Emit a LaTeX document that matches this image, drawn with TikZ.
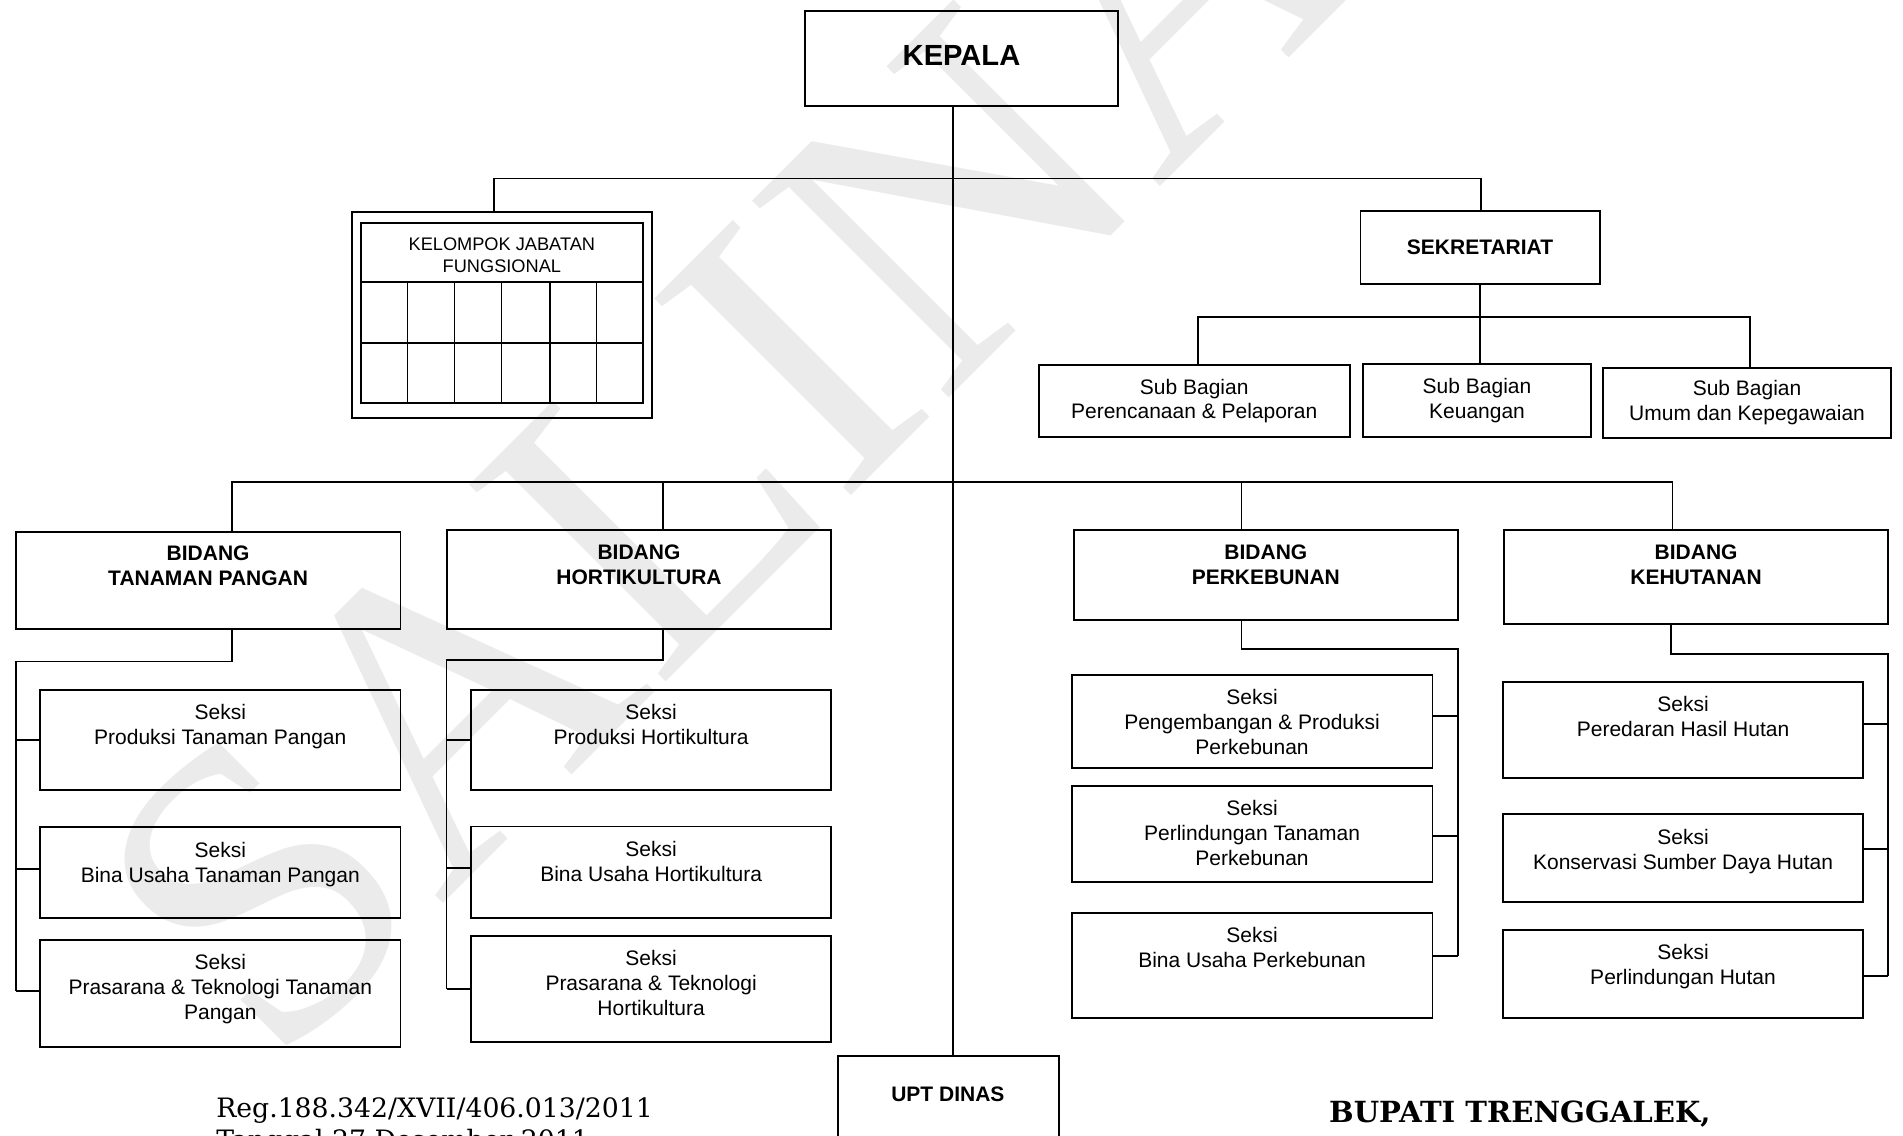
\documentclass[tikz,border=0pt]{standalone}
\usepackage{fontspec}
\setmainfont{Liberation Sans}
\newfontfamily\docserif{DejaVu Serif}
\newfontfamily\markserif{Liberation Serif}
% box given by its name and two corners (x1,y1) (x2,y2), y measured downwards
\newcommand{\orgbox}[5]{%
  \node[box, minimum width={(#4-#2)*1pt}, minimum height={(#5-#3)*1pt}]
    (#1) at ({(#2+#4)/2},{(#3+#5)/2}) {};}
\begin{document}
\begin{tikzpicture}[x=1pt,y=-1pt,
  box/.style={draw, line width=1.6pt, inner sep=0pt, outer sep=0pt},
  conn/.style={line width=1.4pt},
  lbl/.style={inner sep=0pt, align=center, font=\fontsize{17.3}{20.5}\selectfont},
  blbl/.style={inner sep=0pt, align=center, font=\fontsize{17.3}{20.5}\selectfont\bfseries},
  toplbl/.style={lbl, anchor=north},
  btoplbl/.style={blbl, anchor=north},
]
\useasboundingbox (0,0) rectangle (1568,936);
\clip (0,0) rectangle (1568,936);

% watermark
\node[rotate=45, anchor=base west, inner sep=0pt, text=gray!16,
      font=\markserif\fontsize{350}{350}\selectfont] (wm) at (225,885) {SALINAN};

% ---------- boxes ----------
\orgbox{kepala}{663.5}{9}{921}{87}
\orgbox{kjf}{289.8}{174.4}{537.1}{344.6}
\orgbox{kjfin}{297.2}{183.5}{530}{332.3}
\orgbox{sek}{1121}{174}{1318}{234}
\orgbox{sb1}{856}{301}{1112}{360}
\orgbox{sb2}{1123}{300}{1311}{360}
\orgbox{sb3}{1321}{303}{1558}{361}

\orgbox{tp}{13}{438}{330}{518}
\orgbox{ho}{368}{437}{685}{518}
\orgbox{pk}{885}{437}{1201}{510.8}
\orgbox{kh}{1239}{437}{1556}{514}

\orgbox{tp1}{33}{568.5}{330}{651}
\orgbox{tp2}{33}{681.7}{330}{756.6}
\orgbox{tp3}{33}{774.5}{330}{862.4}
\orgbox{ho1}{388}{568.5}{685}{651}
\orgbox{ho2}{388}{681}{685}{756.6}
\orgbox{ho3}{388}{771.2}{685}{858.8}
\orgbox{pk1}{883}{556}{1180.3}{632.5}
\orgbox{pk2}{883}{647.6}{1180.3}{727}
\orgbox{pk3}{883}{752}{1180.3}{839}
\orgbox{kh1}{1238.5}{561.6}{1535}{641.3}
\orgbox{kh2}{1238.5}{671}{1535}{743.4}
\orgbox{kh3}{1238.5}{766.3}{1535}{839}

\orgbox{upt}{690.7}{870}{872.3}{990}

% grid of the functional group box
\draw[line width=1.6pt] (kjfin.west |- 0,232.1) -- (kjfin.east |- 0,232.1);
\draw[line width=1.6pt] (kjfin.west |- 0,282.6) -- (kjfin.east |- 0,282.6);
\foreach \cx in {335.9,374.3,413.4,453.2,491.6}
  \draw[line width=1.2pt] (\cx,232.1) -- (\cx,332.3);

% ---------- labels ----------
\node[inner sep=0pt, font=\fontsize{24}{28}\selectfont\bfseries] (kepalat) at ([yshift=2pt]kepala.center) {KEPALA};
\node[inner sep=0pt, align=center, font=\fontsize{15}{18}\selectfont] (kjft) at (413.5,210) {KELOMPOK JABATAN\\FUNGSIONAL};
\node[blbl] (sekt) at (sek.center) {SEKRETARIAT};
\node[lbl] (sb1t) at (sb1.center) {Sub Bagian\\Perencanaan \& Pelaporan};
\node[lbl] (sb2t) at (sb2.center) {Sub Bagian\\Keuangan};
\node[lbl] (sb3t) at (sb3.center) {Sub Bagian\\Umum dan Kepegawaian};

\node[btoplbl] (tpt) at ([yshift=-11.8pt]tp.north) {BIDANG\\TANAMAN PANGAN};
\node[btoplbl] (hot) at ([yshift=-11.8pt]ho.north) {BIDANG\\HORTIKULTURA};
\node[btoplbl] (pkt) at ([yshift=-11.8pt]pk.north) {BIDANG\\PERKEBUNAN};
\node[btoplbl] (kht) at ([yshift=-11.8pt]kh.north) {BIDANG\\KEHUTANAN};

\node[toplbl] (tp1t) at ([yshift=-11.8pt]tp1.north) {Seksi\\Produksi Tanaman Pangan};
\node[toplbl] (tp2t) at ([yshift=-11.8pt]tp2.north) {Seksi\\Bina Usaha Tanaman Pangan};
\node[toplbl] (tp3t) at ([yshift=-11.8pt]tp3.north) {Seksi\\Prasarana \& Teknologi Tanaman\\Pangan};
\node[toplbl] (ho1t) at ([yshift=-11.8pt]ho1.north) {Seksi\\Produksi Hortikultura};
\node[toplbl] (ho2t) at ([yshift=-11.8pt]ho2.north) {Seksi\\Bina Usaha Hortikultura};
\node[toplbl] (ho3t) at ([yshift=-11.8pt]ho3.north) {Seksi\\Prasarana \& Teknologi\\Hortikultura};
\node[toplbl] (pk1t) at ([yshift=-11.8pt]pk1.north) {Seksi\\Pengembangan \& Produksi\\Perkebunan};
\node[toplbl] (pk2t) at ([yshift=-11.8pt]pk2.north) {Seksi\\Perlindungan Tanaman\\Perkebunan};
\node[toplbl] (pk3t) at ([yshift=-11.8pt]pk3.north) {Seksi\\Bina Usaha Perkebunan};
\node[toplbl] (kh1t) at ([yshift=-11.8pt]kh1.north) {Seksi\\Peredaran Hasil Hutan};
\node[toplbl] (kh2t) at ([yshift=-11.8pt]kh2.north) {Seksi\\Konservasi Sumber Daya Hutan};
\node[toplbl] (kh3t) at ([yshift=-11.8pt]kh3.north) {Seksi\\Perlindungan Hutan};

\node[blbl] (uptt) at (781,902) {UPT DINAS};

% ---------- connectors ----------
\coordinate (trk) at (785,0);
\draw[conn] (kepala.south -| trk) -- (upt.north -| trk);

\coordinate (j1l) at (407,147);
\coordinate (j1r) at (1220,147);
\draw[conn] (kjf.north -| j1l) -- (j1l) -- (j1r) -- (sek.north -| j1r);

\coordinate (j2l) at (987,261);
\coordinate (j2r) at (1442,261);
\draw[conn] (sek.south) -- (sek.south |- j2l);
\draw[conn] (sb1.north -| j2l) -- (j2l) -- (j2r) -- (sb3.north -| j2r);
\draw[conn] (sek.south |- j2l) -- (sek.south |- sb2.north);

\coordinate (j3l) at (191,397);
\coordinate (j3b) at (546,397);
\coordinate (j3c) at (1023,397);
\coordinate (j3r) at (1378,397);
\draw[conn] (tp.north -| j3l) -- (j3l) -- (j3r) -- (kh.north -| j3r);
\draw[conn] (j3b) -- (ho.north -| j3b);
\draw[conn] (j3c) -- (pk.north -| j3c);

% Tanaman Pangan sections
\coordinate (tpa) at (191,545);
\coordinate (tpb) at (13,545);
\coordinate (tp1s) at (13,609.7);
\coordinate (tp2s) at (13,716);
\coordinate (tp3s) at (13,816.3);
\draw[conn] (tp.south -| tpa) -- (tpa) -- (tpb) -- (tp3s);
\foreach \s in {1,2,3} \draw[conn] (tp\s s) -- (tp\s s -| tp\s.west);

% Hortikultura sections
\coordinate (hoa) at (546,544);
\coordinate (hob) at (368,544);
\coordinate (ho1s) at (368,609.7);
\coordinate (ho2s) at (368,715.4);
\coordinate (ho3s) at (368,815.1);
\draw[conn] (ho.south -| hoa) -- (hoa) -- (hob) -- (ho3s);
\foreach \s in {1,2,3} \draw[conn] (ho\s s) -- (ho\s s -| ho\s.west);

% Perkebunan sections
\coordinate (pka) at (1023,535);
\coordinate (pkb) at (1201.3,535);
\coordinate (pk1s) at (1201.3,590);
\coordinate (pk2s) at (1201.3,688.8);
\coordinate (pk3s) at (1201.3,787.7);
\draw[conn] (pk.south -| pka) -- (pka) -- (pkb) -- (pk3s);
\foreach \s in {1,2,3} \draw[conn] (pk\s s) -- (pk\s s -| pk\s.east);

% Kehutanan sections
\coordinate (kha) at (1377,539);
\coordinate (khb) at (1555.5,539);
\coordinate (kh1s) at (1555.5,596.8);
\coordinate (kh2s) at (1555.5,699.8);
\coordinate (kh3s) at (1555.5,804);
\draw[conn] (kh.south -| kha) -- (kha) -- (khb) -- (kh3s);
\foreach \s in {1,2,3} \draw[conn] (kh\s s) -- (kh\s s -| kh\s.east);

% ---------- signature block ----------
\node[anchor=base west, inner sep=0pt, font=\docserif\fontsize{22}{26}\selectfont] (reg) at (178,921) {Reg.188.342/XVII/406.013/2011};
\node[anchor=base west, inner sep=0pt, font=\docserif\fontsize{22}{26}\selectfont] (tgl) at (178,947) {Tanggal 27 Desember 2011};
\node[anchor=base west, inner sep=0pt, font=\docserif\bfseries\fontsize{24}{28}\selectfont] (bup) at (1095,925) {BUPATI TRENGGALEK,};
\end{tikzpicture}
\end{document}
